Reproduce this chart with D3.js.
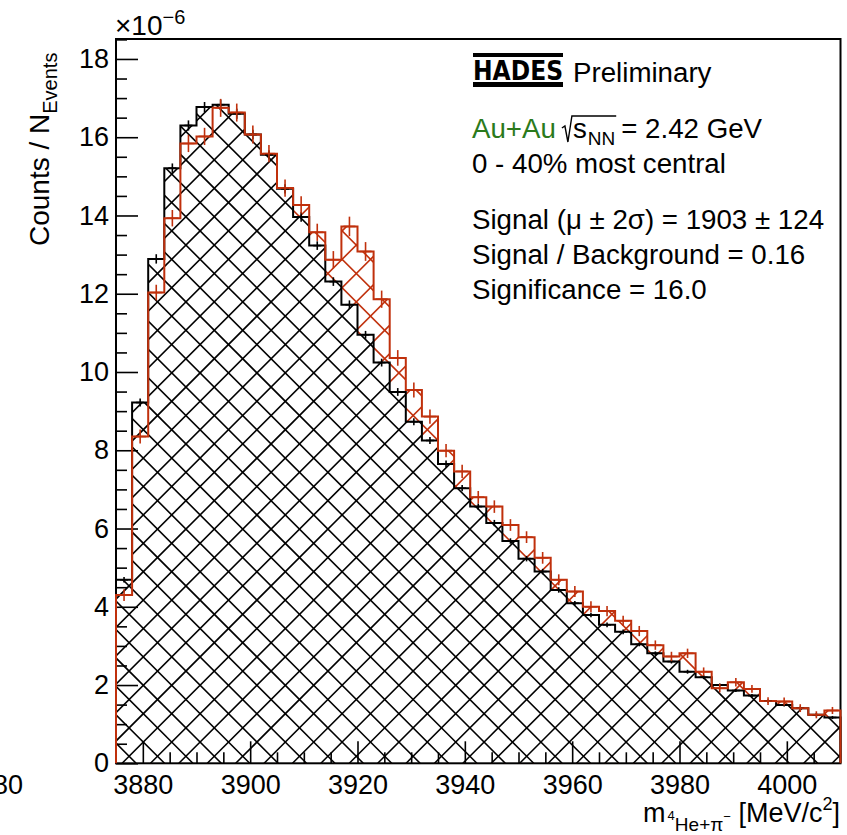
<!DOCTYPE html>
<html>
<head>
<meta charset="utf-8">
<script src="https://cdn.jsdelivr.net/npm/d3@7/dist/d3.min.js"></script>
<style>
  html, body { margin: 0; padding: 0; background: #fff; }
  svg { display: block; font-family: "Liberation Sans", Arial, Helvetica, sans-serif; }
</style>
</head>
<body>
<svg id="chart"></svg>
<script>
// Invariant mass 4He + pi-, counts per event (x 1e-6), 3 MeV bins
const binWidth = 3;
const binLow = [3875, 3878, 3881, 3884, 3887, 3890, 3893, 3896, 3899, 3902,
  3905, 3908, 3911, 3914, 3917, 3920, 3923, 3926, 3929, 3932,
  3935, 3938, 3941, 3944, 3947, 3950, 3953, 3956, 3959, 3962,
  3965, 3968, 3971, 3974, 3977, 3980, 3983, 3986, 3989, 3992,
  3995, 3998, 4001, 4004, 4007];

// black: background
const background = [4.69, 9.22, 12.89, 15.21, 16.30, 16.77, 16.83, 16.60, 16.07, 15.55,
  14.68, 13.96, 13.23, 12.31, 11.72, 10.95, 10.24, 9.49, 8.73, 8.25,
  7.65, 7.03, 6.56, 6.14, 5.68, 5.23, 4.90, 4.43, 4.09, 3.79,
  3.54, 3.36, 3.04, 2.81, 2.60, 2.34, 2.20, 2.00, 1.86, 1.73,
  1.59, 1.49, 1.41, 1.24, 1.17];
const backgroundErr = [0.07, 0.10, 0.12, 0.12, 0.13, 0.13, 0.13, 0.13, 0.12, 0.12,
  0.12, 0.12, 0.11, 0.11, 0.11, 0.10, 0.10, 0.10, 0.09, 0.09,
  0.09, 0.08, 0.08, 0.08, 0.07, 0.07, 0.07, 0.07, 0.06, 0.06,
  0.06, 0.06, 0.05, 0.05, 0.05, 0.05, 0.05, 0.04, 0.04, 0.04,
  0.04, 0.04, 0.04, 0.04, 0.04];

// red: same-event spectrum
const sameEvent = [4.30, 8.35, 12.03, 13.93, 15.84, 16.02, 16.75, 16.63, 16.07, 15.58,
  14.70, 14.27, 13.57, 12.87, 13.72, 13.08, 11.86, 10.36, 9.54, 8.86,
  7.99, 7.46, 6.80, 6.56, 6.09, 5.78, 5.25, 4.69, 4.39, 4.00,
  3.89, 3.64, 3.38, 3.02, 2.73, 2.81, 2.34, 1.92, 2.07, 1.90,
  1.59, 1.58, 1.41, 1.24, 1.35];
const sameEventErr = [0.15, 0.18, 0.20, 0.21, 0.22, 0.22, 0.23, 0.23, 0.23, 0.22,
  0.22, 0.22, 0.22, 0.22, 0.25, 0.24, 0.22, 0.20, 0.19, 0.18,
  0.17, 0.17, 0.16, 0.16, 0.15, 0.15, 0.15, 0.14, 0.14, 0.14,
  0.13, 0.13, 0.13, 0.12, 0.12, 0.12, 0.11, 0.11, 0.11, 0.10,
  0.10, 0.10, 0.10, 0.09, 0.09];

const xDomain = [3875, 4010];
const yDomain = [0, 18.51];
const xTicks = [3880, 3900, 3920, 3940, 3960, 3980, 4000];
const yTicks = [0, 2, 4, 6, 8, 10, 12, 14, 16, 18];

const RED = '#c0300c';
const GREEN = '#2b7a1c';
const FONT = '"Liberation Sans", Arial, Helvetica, sans-serif';

const frame = { left: 116, right: 840.5, top: 39, bottom: 763.3 };

const svg = d3.select('#chart').attr('width', 847).attr('height', 835);

const x = d3.scaleLinear().domain(xDomain).range([frame.left, frame.right]);
const y = d3.scaleLinear().domain(yDomain).range([frame.bottom, frame.top]);

const defs = svg.append('defs');

/**
 * Step outline points of a histogram, closed down to zero at both ends.
 */
function stepPoints(vals) {
  const last = vals.length - 1;
  const pts = [[binLow[0], 0]];
  vals.forEach((v, i) => pts.push([binLow[i], v]));
  pts.push([binLow[last] + binWidth, vals[last]]);
  pts.push([binLow[last] + binWidth, 0]);
  return pts;
}

const stepLine = d3.line()
  .x(d => x(d[0]))
  .y(d => y(d[1]))
  .curve(d3.curveStepAfter);

// mask that hides everything under the background histogram
defs.append('mask').attr('id', 'mask-above-bg')
  .call(m => m.append('rect').attr('width', 847).attr('height', 835).attr('fill', '#fff'))
  .call(m => m.append('path').attr('d', stepLine(stepPoints(background)) + 'Z').attr('fill', '#000'));

/**
 * Cross hatch (ROOT style), fixed to the canvas so both histograms line up.
 */
function drawHatch(vals, color, id, mask) {
  defs.append('clipPath').attr('id', id)
    .append('path').attr('d', stepLine(stepPoints(vals)) + 'Z');

  const outer = svg.append('g');
  if (mask) outer.attr('mask', `url(#${mask})`);
  const g = outer.append('g').attr('clip-path', `url(#${id})`)
    .attr('stroke', color).attr('stroke-width', 1.6).attr('fill', 'none');

  const d = 28.4;
  const lines = [];
  // x - y = c
  for (let c = 26 - d * 30; c < frame.right - frame.top + d; c += d) {
    lines.push([c + frame.top, frame.top, c + frame.bottom, frame.bottom]);
  }
  // x + y = c
  for (let c = 5; c < frame.right + frame.bottom + d; c += d) {
    lines.push([c - frame.top, frame.top, c - frame.bottom, frame.bottom]);
  }
  g.selectAll('line').data(lines).join('line')
    .attr('x1', l => l[0]).attr('y1', l => l[1])
    .attr('x2', l => l[2]).attr('y2', l => l[3]);
}

function drawOutline(vals, color) {
  svg.append('path')
    .attr('d', stepLine(stepPoints(vals)))
    .attr('fill', 'none')
    .attr('stroke', color)
    .attr('stroke-width', 2);
}

function drawErrors(vals, errs, color, arm) {
  const g = svg.append('g').attr('stroke', color).attr('stroke-width', 1.6);
  vals.forEach((v, i) => {
    const cx = x(binLow[i] + binWidth / 2);
    g.append('line').attr('x1', cx).attr('x2', cx)
      .attr('y1', y(v - errs[i])).attr('y2', y(v + errs[i]));
    g.append('line').attr('x1', cx - arm).attr('x2', cx + arm)
      .attr('y1', y(v)).attr('y2', y(v));
  });
}

// ---- axes and frame ----
function styleAxis(g) {
  g.select('.domain').remove();
  g.attr('font-size', 27).attr('font-family', FONT);
  g.selectAll('line').attr('stroke', '#000').attr('stroke-width', 1.6);
  g.selectAll('text').attr('fill', '#000');
}

const yMinor = d3.range(0.5, 18.6, 0.5).filter(v => v % 2 !== 0);
const xMinor = d3.range(3885, 4010, 5).filter(v => v % 20 !== 0);

svg.append('g').attr('transform', `translate(${frame.left},0)`)
  .call(d3.axisLeft(y).tickValues(yTicks).tickSize(-22).tickPadding(7).tickFormat(d3.format('d')))
  .call(styleAxis);
svg.append('g').attr('transform', `translate(${frame.left},0)`)
  .call(d3.axisLeft(y).tickValues(yMinor).tickSize(-11).tickFormat(''))
  .call(styleAxis);

svg.append('g').attr('transform', `translate(0,${frame.bottom})`)
  .call(d3.axisBottom(x).tickValues(xTicks).tickSize(-22).tickPadding(11.5).tickFormat(d3.format('d')))
  .call(styleAxis);
svg.append('g').attr('transform', `translate(0,${frame.bottom})`)
  .call(d3.axisBottom(x).tickValues(xMinor).tickSize(-11).tickFormat(''))
  .call(styleAxis);

svg.append('rect')
  .attr('x', frame.left).attr('y', frame.top)
  .attr('width', frame.right - frame.left).attr('height', frame.bottom - frame.top)
  .attr('fill', 'none').attr('stroke', '#000').attr('stroke-width', 2);

// ---- histograms ----
drawHatch(sameEvent, RED, 'clip-same', 'mask-above-bg');
drawHatch(background, '#000', 'clip-bg');
drawOutline(background, '#000');
drawOutline(sameEvent, RED);
drawErrors(background, backgroundErr, '#000', 4);
drawErrors(sameEvent, sameEventErr, RED, 6);

// ---- texts ----
const txt = svg.append('g').attr('font-family', FONT).attr('font-size', 27).attr('fill', '#000');

// remnant of the neighbouring panel's label, cut at the left edge
txt.append('text').attr('x', 23).attr('y', 794).attr('text-anchor', 'end').text('3880');

// exponent
const expo = txt.append('text').attr('x', 115).attr('y', 35).attr('font-size', 28);
expo.append('tspan').text('\u00d710');
expo.append('tspan').attr('font-size', 20).attr('dy', -11).text('\u22126');

// y title
const yTitle = txt.append('text')
  .attr('font-size', 28)
  .attr('transform', 'translate(49,246) rotate(-90)');
yTitle.append('tspan').text('Counts / N');
yTitle.append('tspan').attr('font-size', 20).attr('dy', 8).text('Events');

// x title
const xTitle = txt.append('text').attr('x', 840).attr('y', 822).attr('text-anchor', 'end');
xTitle.append('tspan').text('m');
xTitle.append('tspan').attr('font-size', 13).attr('dy', -2).attr('dx', 2).text('4');
xTitle.append('tspan').attr('font-size', 19).attr('dy', 11).text('He+\u03c0');
xTitle.append('tspan').attr('font-size', 13).attr('dy', -10).text('\u2212');
xTitle.append('tspan').attr('dy', 1).text(' [MeV/c');
xTitle.append('tspan').attr('font-size', 18).attr('dy', -12).text('2');
xTitle.append('tspan').attr('dy', 12).text(']');

// HADES logo + Preliminary
const logoX = 473, logoW = 90;
txt.append('rect').attr('x', logoX).attr('y', 53).attr('width', logoW).attr('height', 4);
txt.append('text')
  .attr('x', logoX).attr('y', 80)
  .attr('font-family', '"DejaVu Sans", sans-serif')
  .attr('font-weight', 'bold')
  .attr('font-size', 26)
  .attr('textLength', logoW)
  .attr('lengthAdjust', 'spacingAndGlyphs')
  .text('HADES');
txt.append('rect').attr('x', logoX).attr('y', 82).attr('width', logoW).attr('height', 5);

const info = txt.append('g').attr('font-size', 27.7);
info.append('text').attr('x', 573).attr('y', 82).text('Preliminary');

// collision system
const rowX = 472;
const au = info.append('text').attr('x', rowX).attr('y', 138).attr('fill', GREEN).text('Au+Au');
const radX = rowX + au.node().getComputedTextLength() + 6;
const sTxt = info.append('text').attr('x', radX + 11).attr('y', 138).text('s');
const nnX = radX + 11 + sTxt.node().getComputedTextLength() + 1;
const nnTxt = info.append('text').attr('x', nnX).attr('y', 145).attr('font-size', 19).text('NN');
const radEnd = nnX + nnTxt.node().getComputedTextLength() + 1;
info.append('path')
  .attr('d', `M${radX},128 L${radX + 3},126 L${radX + 6},142 L${radX + 10},116 L${radEnd},116`)
  .attr('fill', 'none').attr('stroke', '#000').attr('stroke-width', 1.4);
info.append('text').attr('x', radEnd + 5).attr('y', 138).text('= 2.42 GeV');

info.append('text').attr('x', rowX).attr('y', 173).text('0 - 40% most central');
info.append('text').attr('x', rowX).attr('y', 229).text('Signal (\u03bc \u00b1 2\u03c3) = 1903 \u00b1 124');
info.append('text').attr('x', rowX).attr('y', 264).text('Signal / Background = 0.16');
info.append('text').attr('x', rowX).attr('y', 299).text('Significance = 16.0');
</script>
</body>
</html>
